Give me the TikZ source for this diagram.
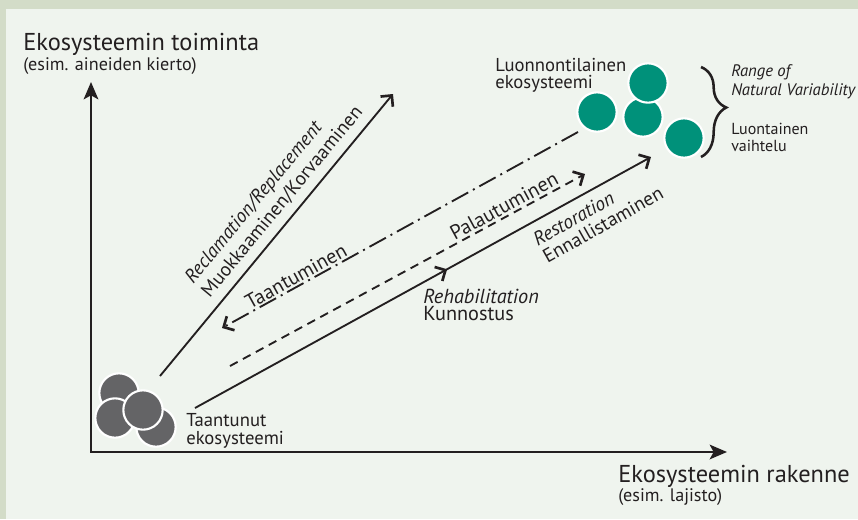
\documentclass[tikz,border=0pt]{standalone}
\usepackage{fontspec}
\setmainfont{PT Sans}
\usetikzlibrary{arrows.meta,decorations.pathreplacing,decorations.markings}
\definecolor{outerbg}{HTML}{D3DCC8}
\definecolor{innerbg}{HTML}{EFF4EE}
\definecolor{ink}{HTML}{231F20}
\definecolor{degr}{HTML}{646466}
\definecolor{natgreen}{HTML}{00917A}
\tikzset{
  axisline/.style={draw=ink, line width=1.6pt, {Stealth[length=13pt,width=11pt,inset=3pt]}-{Stealth[length=13pt,width=11pt,inset=3pt]}},
  conn/.style={draw=ink, line width=1.4pt},
  barb/.style={-{Straight Barb[length=6pt,width=12pt,line width=2pt]}},
  dashdotline/.style={dash pattern=on 14pt off 4pt on 1.5pt off 4pt},
  dashline/.style={dash pattern=on 6.5pt off 4.5pt},
  blob/.style={circle, inner sep=0pt, minimum size=29.5pt, draw=white, line width=1.6pt},
  grayblob/.style={blob, fill=degr},
  greenblob/.style={blob, fill=natgreen},
  lbl/.style={inner sep=0pt, text=ink, anchor=base west},
  biglbl/.style={lbl, font=\fontsize{18.3pt}{21pt}\selectfont},
  smalllbl/.style={lbl, font=\fontsize{13.6pt}{16pt}\selectfont},
  midlbl/.style={lbl, font=\fontsize{14pt}{16pt}\selectfont},
  rehlbl/.style={lbl, font=\fontsize{15.2pt}{17pt}\selectfont},
  rnglbl/.style={lbl, font=\fontsize{12pt}{14pt}\selectfont},
  rotlbl/.style={inner sep=0pt, text=ink, anchor=center, font=\fontsize{15.2pt}{17pt}\selectfont},
}
\begin{document}
\begin{tikzpicture}[x=0.75pt,y=-0.75pt]
\fill[outerbg] (0,0) rectangle (858,519);
\fill[innerbg] (6,9) rectangle (858,519);
\useasboundingbox (0,0) rectangle (858,519);

% axes
\coordinate (O) at (91,452);
\coordinate (Ytip) at (91,82);
\coordinate (Xtip) at (727,452);
\draw[axisline] (Ytip) -- (O) -- (Xtip);

\node[biglbl] (ylab) at (23,50.7) {Ekosysteemin toiminta};
\node[smalllbl] (ylab2) at (23,70.7) {(esim. aineiden kierto)};
\node[biglbl] (xlab) at (618,482.7) {Ekosysteemin rakenne};
\node[smalllbl] (xlab2) at (618,501.7) {(esim. lajisto)};

% degraded ecosystem
\node[grayblob] (g1) at (119,393) {};
\node[grayblob] (g2) at (156,427) {};
\node[grayblob] (g3) at (115,418) {};
\node[grayblob] (g4) at (143,410) {};
\node[midlbl] (deg1) at (186,426) {Taantunut};
\node[midlbl] (deg2) at (186,444.3) {ekosysteemi};

% natural ecosystem
\node[greenblob] (n1) at (597,112) {};
\node[greenblob] (n2) at (643,117) {};
\node[greenblob] (n3) at (648,83) {};
\node[greenblob] (n4) at (684,138) {};
\node[midlbl] (nat1) at (495,71.7) {Luonnontilainen};
\node[midlbl] (nat2) at (495,88.3) {ekosysteemi};

% brace
\coordinate (brT) at (701,67);
\coordinate (brB) at (701,157);
\draw[ink, line width=1.9pt, decorate, decoration={brace, amplitude=19pt, aspect=0.45}] (brT) -- (brB);
\node[rnglbl, font=\fontsize{12.5pt}{14pt}\selectfont\itshape] (rng1) at (731,76.7) {Range of};
\node[rnglbl, font=\fontsize{12.5pt}{14pt}\selectfont\itshape] (rng2) at (731,95) {Natural Variability};
\node[rnglbl] (rng3) at (731,134.3) {Luontainen};
\node[rnglbl] (rng4) at (731,151.7) {vaihtelu};

% reclamation
\coordinate (recS) at (160,376);
\coordinate (recE) at (393,94);
\draw[conn, barb] (recS) -- (recE);
\node[rotlbl, rotate=50.4, align=left, font=\fontsize{14.5pt}{16.2pt}\selectfont] (rec) at (274,195)
  {{\itshape Reclamation/Replacement}\\Muokkaaminen/Korvaaminen};

% degradation (dash-dot)
\coordinate (taS) at (578,132);
\coordinate (taE) at (222,328);
\draw[conn, barb, dashdotline] (taS) -- (taE);
\node[rotlbl, rotate=29] (ta) at (296,276) {Taantuminen};

% recovery (dashed)
\coordinate (paS) at (230,366);
\coordinate (paE) at (585,174);
\draw[conn, barb, dashline] (paS) -- (paE);
\node[rotlbl, rotate=28.5] (pa) at (504,206) {Palautuminen};

% restoration
\coordinate (reS) at (195,408);
\coordinate (reE) at (651,157);
\draw[conn, barb, postaction={decorate}, decoration={markings, mark=at position 0.553 with {\arrow[line width=1.4pt]{Straight Barb[length=6pt,width=12pt,line width=2pt]}}}] (reS) -- (reE);
\node[rotlbl, rotate=29.5, align=left, font=\fontsize{14.6pt}{14.8pt}\selectfont] (rest) at (598,216)
  {{\itshape Restoration}\\Ennallistaminen};
\node[rehlbl] (reh1) at (423,303.3) {\itshape Rehabilitation};
\node[rehlbl] (reh2) at (423,320.7) {Kunnostus};
\end{tikzpicture}
\end{document}
